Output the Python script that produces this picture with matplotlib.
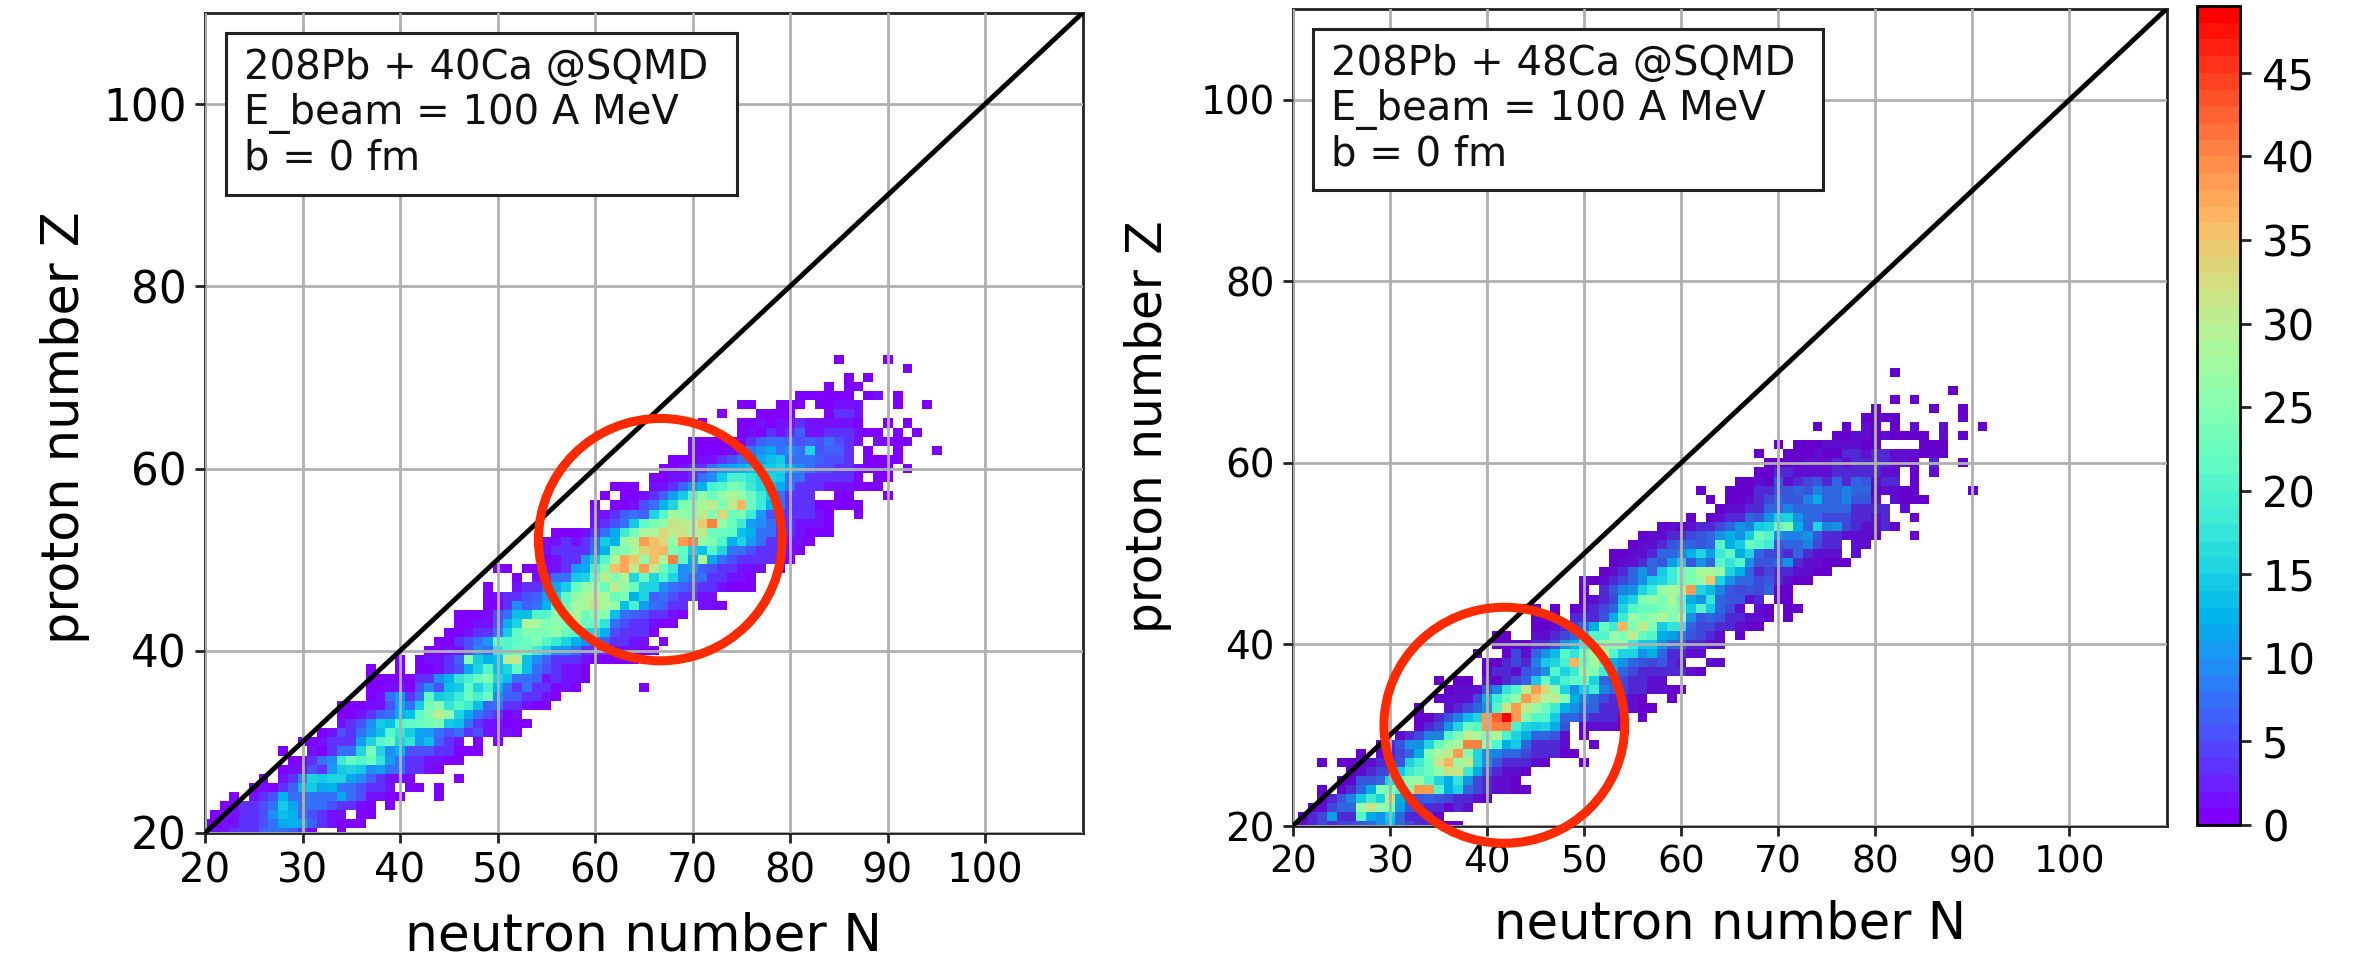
import numpy as np
import matplotlib
matplotlib.use("Agg")
import matplotlib.pyplot as plt
from matplotlib.patches import Ellipse, Rectangle
from matplotlib.colors import ListedColormap

# ---- data: each segment is a run of counts on row Z beginning at neutron number N ----
left_z = [20,20,21,22,22,23,23,24,24,24,25,25,25,26,26,26,27,28,29,29,30,30,30,31,32,33,34,35,36,36,37,38,38,38,39,39,40,41,41,42,43,44,45,45,46,47,47,48,48,49,49,49,50,51,52,53,54,55,55,56,56,57,57,57,57,58,58,59,59,60,60,61,61,62,62,62,62,63,63,64,64,64,65,65,65,65,66,66,66,67,67,67,67,67,68,68,68,69,69,70,70,71,72,72]
left_n = [20,34,20,21,36,22,39,23,25,44,25,41,44,26,28,46,28,29,28,31,30,48,50,32,34,34,34,37,37,65,37,37,40,42,40,42,43,44,67,45,46,46,49,71,49,49,52,52,54,50,53,79,55,55,55,56,60,60,87,60,62,61,63,85,90,62,66,66,89,67,92,68,88,70,88,91,95,70,89,75,91,93,71,75,90,92,73,77,84,75,79,83,91,94,81,88,91,84,86,86,88,92,85,90]
left_v = [
 [2,2,2,3,3,4,6,7,7,6,3,1],[1],
 [1,1,2,2,3,4,5,7,11,12,11,6,3,2,1,1,1],
 [1,2,2,4,4,5,9,13,12,8,5,3,2,2],[1,1],
 [1,1,3,3,5,7,14,11,7,8,7,5,3,4,2,1],[1],
 [1],[2,3,5,12,8,7,8,8,8,11,7,5,2,2,1,1],[1],
 [1,2,1,4,6,13,14,11,12,7,7,5,3,4,2],[1,1],[1],
 [1],[2,4,9,15,14,15,16,11,9,6,4,2,2,1],[1],
 [1,2,2,5,4,10,14,15,14,9,10,7,8,4,3,2,1],
 [1,1,4,7,9,18,22,20,22,17,10,7,4,3,2,2,1,1],
 [1],[2,1,3,7,8,15,24,16,9,12,5,5,5,3,3,1,1,1],
 [1,1,2,3,4,3,10,15,20,22,15,17,10,13,6,3,2],[1],[1],
 [1,2,5,4,7,10,13,20,17,14,11,10,7,5,7,3,5,2,2,2,1],
 [2,4,5,9,14,13,20,21,22,23,24,14,13,7,3,2,2,1,1,1],
 [1,1,2,3,6,8,12,13,21,24,30,27,15,11,7,5,4,1,2],
 [1,1,1,2,2,5,11,7,14,23,25,17,20,18,13,6,8,3,3,2,1,1],
 [1,2,7,10,4,8,21,14,16,18,22,19,22,9,6,6,4,4,2,1],
 [1,1,2,2,1,5,9,5,13,14,21,15,19,12,8,4,7,3,3,1,2,1],[1],
 [1,1,1,1,1,4,3,9,12,17,19,22,24,15,13,8,7,6,2,3,2,2,1],
 [1],[1],[1,1,2,4,5,11,15,20,13,15,21,13,7,5,4,2,2,1],
 [1],[1,2,2,4,6,24,14,12,13,30,30,13,9,6,3,3,3,2,1,1,1,1,1],
 [1,1,2,2,5,9,8,17,20,22,22,18,15,10,10,7,4,4,3,2,2,2,1,1],
 [1,1,3,5,8,10,21,20,21,22,24,20,18,15,12,9,7,6,4,3,2,2],[1],
 [1,1,2,4,4,8,14,21,24,24,24,26,22,20,16,16,12,5,3,3,3,1],
 [1,1,2,2,5,12,16,28,28,24,26,24,27,22,22,17,8,5,3,3,2,1,1],
 [1,1,1,2,5,7,13,13,20,20,26,25,28,22,25,25,13,8,6,5,4,3,2,1],
 [1,1,4,9,6,8,12,20,22,28,28,32,28,26,13,19,10,7,6,4,3],[2,2,1],
 [1,2,3,3,5,6,10,14,21,26,28,30,28,22,24,12,16,6,7,5,4,3,2,2],
 [1],[2,3,4,7,11,14,22,27,27,22,30,26,22,15,16,9,7,6,5,3,3,2,1,1,1],
 [1],[2,4,7,8,14,16,21,30,24,28,15,22,15,20,15,9,8,8,4,3,2,2,1],
 [1,1],[1,1,2,2,4,10,11,19,24,35,37,30,38,30,22,18,9,10,6,5,4,3,2,2,2],[1],
 [1,2,3,4,10,14,20,28,37,34,26,35,28,40,21,12,28,11,7,5,4,4,4,3,2,1],
 [2,3,3,3,4,7,12,24,24,28,33,35,36,24,22,14,13,20,15,8,7,5,4,4,3,2,1],
 [2,2,3,2,4,6,14,12,26,29,38,35,33,26,38,40,26,24,20,12,15,10,8,4,4,2,2,1],
 [1,1,1,2,4,7,11,18,23,28,28,33,30,32,28,30,22,22,21,13,12,8,7,4,3,2,1,1,1],
 [2,3,5,8,14,21,24,26,32,30,28,34,40,26,22,18,10,9,7,3,3,2,2,2,1],
 [2,2,3,6,8,6,15,20,28,26,24,30,24,33,22,24,18,10,5,3,3,3,3,2,1],[1],
 [1],[1,1,2,5,8,12,16,24,24,28,30,24,30,36,22,18,12,7,4,3,3,1,1,1,1,1],
 [1],[1,1,2,3,6,10,14,20,26,22,26,28,26,22,18,14,8,3,3,3],[1,1],[1],
 [1,1,1],[2,2,3,6,10,12,19,20,24,22,18,16,13,11,8,4,4,3,2,2,2,1,1,1],
 [1,1,2,2,3,7,9,14,19,19,17,16,16,14,7,7,4,3,3,3,3,1],[1,1],
 [1,1,2,3,4,7,10,11,12,13,14,14,16,12,9,8,5,5,4,4,2,1,1,1],[1],
 [1,1,1,2,2,3,5,8,7,11,13,14,8,7,8,6,5,5,3],[1,1,1,1],
 [1,1,1,1,2,4,7,9,11,8,9,8,15,5,6,6,3],[1],[1],[1],
 [1,1,1,1,1,1,3,6,8,7,6,5,6,5,8,5,3,2],[2,1,1,1],
 [1,2,1,4,2,3,6,2,2,3,3,3,2,1,1],[1],[1],
 [1],[1,1,2,1,2,2,3,2,2,2,2,2,1],[1],[1],
 [1],[1,1,1,1],[1,3,3,2],
 [1,1],[1,1,1],[1,1,2,2,2],[1],[1],
 [1,1,1,1,1,1],[1,2],[1],
 [1],[1,1],
 [1],[1],
 [1],
 [1],[1],
]

right_z = [20,21,22,23,24,24,25,26,27,27,27,28,28,29,29,30,30,31,31,32,32,33,33,34,34,35,36,36,36,37,38,38,39,39,40,41,41,41,42,43,43,44,44,44,44,44,45,45,46,46,47,48,49,50,50,51,51,52,52,53,53,54,54,54,55,55,56,56,56,57,57,57,58,58,59,59,59,60,60,60,61,61,62,62,62,63,63,63,64,64,64,64,64,64,64,65,65,66,66,66,67,67,68,70]
right_n = [20,21,22,23,23,25,25,26,23,25,50,27,29,29,51,31,50,33,50,33,56,33,36,35,59,36,35,37,40,40,40,63,39,42,41,41,45,66,45,45,71,44,47,49,68,71,50,70,50,52,50,52,53,53,78,55,78,56,84,58,82,61,63,84,64,83,63,65,82,62,65,90,66,84,68,84,86,69,86,89,68,71,70,72,85,76,87,89,74,77,79,82,84,87,91,79,89,80,86,89,82,84,88,82]
right_v = [
 [1,2,3,5,4,5,5,6,8,10,13,8,5,4,3,2,1,1],
 [1,3,5,11,4,4,20,12,10,14,7,4,3,3,1],
 [1,2,5,7,8,26,32,26,24,11,6,5,4,3,1,3,2],
 [2,3,6,9,14,18,16,32,12,8,6,7,6,5,3,3,2,1],
 [1],[1,3,7,12,24,24,20,24,38,38,20,12,15,8,5,3,2,2,1,1],
 [1,1,6,6,8,16,22,27,26,20,16,12,17,10,5,3,2,2,1],
 [1,2,3,5,5,14,18,20,22,26,32,32,18,12,6,4,2,2,1],
 [1],[1,1,2,2,3,4,6,16,18,22,32,36,26,30,15,10,6,4,3,3,2,1],[1],
 [1],[2,3,5,8,12,24,28,30,38,24,16,10,9,7,8,5,4,4,3,1,1],
 [2,3,6,10,10,16,22,26,28,40,40,26,20,12,14,8,4,3,3,2],[1],
 [2,3,5,9,9,20,24,30,28,24,28,19,16,12,8,7,6,2],[1],
 [1,3,5,10,16,22,20,38,40,40,19,16,14,16,12,6],[1,2,2,2,1],
 [1,1,3,6,9,13,15,38,42,48,38,24,20,20,14,7,8,5,3,3,3,1],[1],
 [1],[2,3,5,8,10,20,32,38,30,26,22,18,12,10,8,7,4,3,3,2,1,1],
 [1,2,2,2,5,12,18,22,26,38,34,28,30,24,12,9,8,5,4,3,2,1],[1],
 [1,2,2,2,6,9,17,20,30,38,33,26,16,10,14,18,9,7,5,4,3,2,2,1,1],
 [1],[1,1],[2,1,3,5,8,14,22,16,19,21,22,15,7,6,5,4,3,2,2],
 [1,3,3,2,6,8,10,20,15,18,26,24,18,12,8,5,3,4,3,3,3,2,1],
 [1,1,3,5,3,9,14,16,19,36,22,28,22,12,10,8,6,5,6,4,2],[2,2],
 [1],[1,5,2,7,10,13,20,17,24,28,28,20,15,16,10,12,8,4,3,2,2],
 [1,1,2,1,3,4,5,10,12,18,22,27,26,26,18,14,14,10,8,7,4,3,2,2],
 [1,1],[2,2,4,5,8,14,20,20,26,24,30,22,20,12,11,9,6,5,4,2],[1],
 [1,1,2,4,5,8,12,22,18,36,24,30,24,14,17,17,8,5,5,4,3,2,1,1],
 [1,1,1,0,4,3,3,6,12,18,26,24,27,28,24,28,10,6,8,6,4,4,2,2,1],[1],
 [1,1],[1],[1,2,3,5,8,15,20,22,22,24,26,22,14,20,14,8,5,2],[2,1],[1,1],
 [1,2,3,5,13,16,24,26,24,28,21,12,10,17,8,6,6,2,3],[1,1],
 [1],[3,6,9,10,15,18,26,28,26,38,16,13,9,6,5,6,5,7,1,1],
 [2,1,2,3,5,8,10,14,15,18,22,24,26,34,15,10,7,7,5,6,4,2,1,1],
 [1,2,4,8,10,8,14,18,22,24,28,28,26,16,12,8,4,5,3,3,2,2,1,1],
 [1,2,2,4,8,6,11,14,6,10,8,20,17,20,10,6,6,7,10,3,2,2,1,1,1],
 [1,1,2,2,4,7,8,9,12,15,11,18,21,12,15,7,5,5,4,8,4,2,2,2],[2],
 [1,2,2,3,6,8,8,6,7,20,12,14,22,20,18,6,8,8,9,5,3,4],[2,2],
 [1,2,2,4,4,5,6,8,10,12,10,14,22,20,10,9,9,10,6,4,3,2,2,2,1],[1],
 [1,2,1,2,3,4,5,7,10,9,14,16,21,24,12,8,15,9,10,5,3,2,2,3],[1],
 [1],[1,2,3,4,7,6,10,14,15,10,7,7,5,5,5,4,3,2,3],[1],
 [1,2,2,4,4,7,8,9,8,7,8,7,7,7,3,3,4,3],[2],
 [1],[1,1,2,3,5,7,6,6,9,12,7,7,9,6,6,2],[2,1,1,1],
 [1],[1,1,1,3,4,6,6,7,6,9,8,8,9,7,8,1,2,2,1,1],[1],
 [1,1,2,1,6,2,3,5,6,3,7,4,7,6,2,3,3],[1],
 [1,1,3,3,2,2,2,2,3,3,4,3,3,2,2],[1],[2],
 [1,1,1,1,2,2,2,3,2,3,3,3,3,2,2,1],[3],[1],
 [1],[1,1,1,2,1,1,3,3,2,3,3,2,2,2,1,1,1],
 [1],[1,1,1,2,2,2,2,1,1],[1,1,1],
 [1,1,2,2,1,2,1,1,1,1],[2],[1],
 [1],[1],[2,1],[1],[2],[2],[1],
 [1,1,1,1],[1],
 [1],[1],[1],
 [1],[1],
 [1],
 [1],
]

axis_ticks_x = [20, 30, 40, 50, 60, 70, 80, 90, 100]
axis_ticks_y = [20, 40, 60, 80, 100]
cbar_ticks = [0, 5, 10, 15, 20, 25, 30, 35, 40, 45]
left_note = ["208Pb + 40Ca @SQMD", "E_beam = 100 A MeV", "b = 0 fm"]
right_note = ["208Pb + 48Ca @SQMD", "E_beam = 100 A MeV", "b = 0 fm"]
count_max = 49

# ---- helpers ----
W, H = 2363, 957
INK = "#222222"


def box(x0, y0, x1, y1):
    return [x0 / W, 1 - y1 / H, (x1 - x0) / W, (y1 - y0) / H]


def grid_of(zs, ns, vs):
    g = np.zeros((121, 121))
    for z, n0, vals in zip(zs, ns, vs):
        for i, v in enumerate(vals):
            g[z, n0 + i] = v
    return np.ma.masked_equal(g, 0)


cmap = plt.get_cmap("rainbow", count_max).copy()
cmap.set_bad("white")

# The right-hand picture renders its low counts slightly darker than the colour bar.
dark_rgba = cmap(np.arange(count_max))
dark_rgba[:, :3] *= np.minimum(1.0, 0.8 + 0.2 * np.arange(count_max) / 14)[:, None]
cmap_right = ListedColormap(dark_rgba)
cmap_right.set_bad("white")

fig = plt.figure(figsize=(W / 100, H / 100), dpi=100)


def panel(pos, zs, ns, vs, cm, note, note_box, note_x, note_base, note_fs, ring,
          xfs, yfs, xl_fs, yl_fs, xpad, ypad, yl_y):
    ax = fig.add_axes(box(*pos))
    im = ax.imshow(grid_of(zs, ns, vs), origin="lower", cmap=cm, vmin=0, vmax=count_max,
                   interpolation="nearest", aspect="auto", zorder=1)
    ax.set_xlim(20, 110)
    ax.set_ylim(20, 110)
    ax.set_xticks(axis_ticks_x)
    ax.set_yticks(axis_ticks_y)
    ax.tick_params(axis="x", labelsize=xfs, width=2, length=7, color=INK, pad=6)
    ax.tick_params(axis="y", labelsize=yfs, width=2, length=7, color=INK, pad=6)
    ax.grid(True, color="#b0b0b0", lw=2.0, zorder=2)
    ax.set_axisbelow(False)
    ax.plot([20, 110], [20, 110], color="black", lw=3.5, zorder=3)
    ax.add_patch(Ellipse(ring[:2], ring[2], ring[3], fill=False, ec="#fb2a00", lw=6.5,
                         zorder=4, clip_on=False))
    ax.set_xlabel("neutron number N", fontsize=xl_fs, labelpad=xpad)
    ax.set_ylabel("proton number Z", fontsize=yl_fs, labelpad=ypad, y=yl_y)
    for s in ax.spines.values():
        s.set_linewidth(2)
        s.set_color(INK)
    x0, y0, x1, y1 = note_box
    fig.add_artist(Rectangle((x0 / W, 1 - y1 / H), (x1 - x0) / W, (y1 - y0) / H,
                             transform=fig.transFigure, fc="white", ec=INK, lw=2.2, zorder=5))
    for line, base in zip(note, note_base):
        fig.text(note_x / W, 1 - base / H, line, fontsize=note_fs, va="baseline", ha="left",
                 color="#111111", zorder=6)
    return im


im_left = panel((205, 13, 1082.5, 833), left_z, left_n, left_v, cmap, left_note,
                (226, 33, 737, 195), 244, (79, 124, 170), 28.9,
                (66.7, 52.2, 25.0, 26.6), 29, 31.5, 37.3, 36.6, 14.5, 10, 0.4945)
panel((1292.7, 9, 2166.5, 826), right_z, right_n, right_v, cmap_right, right_note,
      (1313, 29, 1823, 190), 1331, (75, 120, 165), 28.9,
      (41.8, 31.1, 24.8, 26.0), 27, 28, 37, 35, 14, 20, 0.489)

cax = fig.add_axes(box(2197, 6, 2240, 825))
cb = fig.colorbar(im_left, cax=cax)
cb.set_ticks(cbar_ticks)
cb.ax.tick_params(labelsize=30, width=2, length=8, color=INK, pad=8)
cb.outline.set_linewidth(2)

fig.savefig("out.png", dpi=100)
